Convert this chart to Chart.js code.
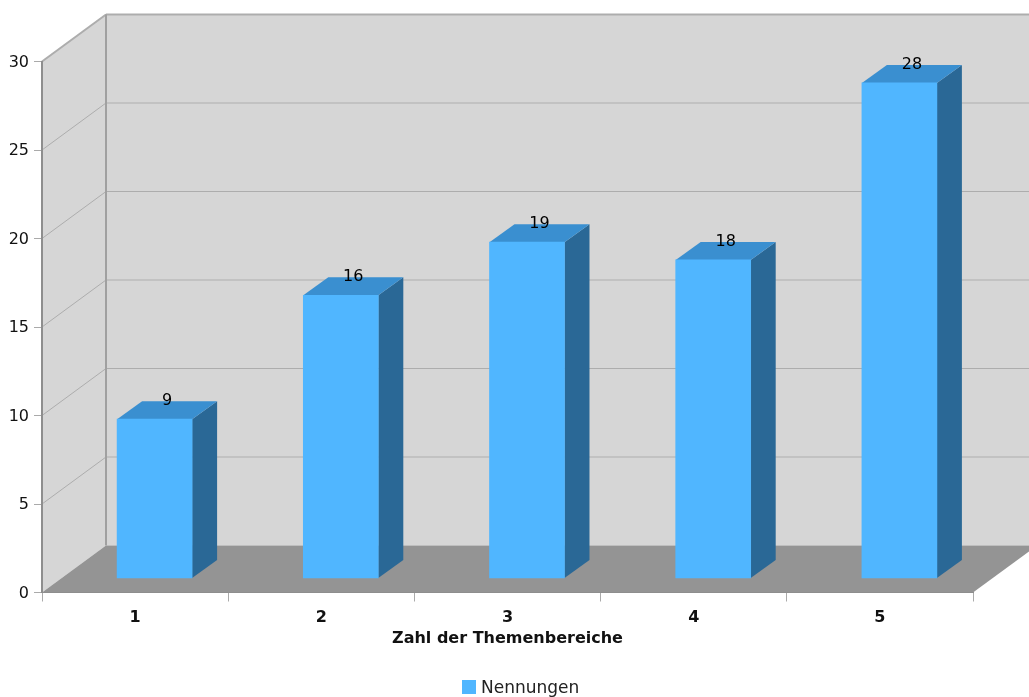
<!DOCTYPE html>
<html>
<head>
<meta charset="utf-8">
<title>Nennungen</title>
<script src="https://cdn.jsdelivr.net/npm/chart.js@4/dist/chart.umd.min.js"></script>
<style>
  html, body { margin: 0; padding: 0; background: #fff; }
  canvas { display: block; }
</style>
</head>
<body>
<canvas id="chart" width="1029" height="697"></canvas>
<script>
const categories = ['1', '2', '3', '4', '5'];
const nennungen = [9, 16, 19, 18, 28];
const yTicks = [0, 5, 10, 15, 20, 25, 30];

const FONT = '"DejaVu Sans", sans-serif';

// depth of the box the chart sits in, and of the bars inside it
const ROOM = { dx: 64, dy: -47 };
const BAR_OFFSET = { dx: 19.5, dy: -14 };
const BAR_DEPTH = { dx: 25, dy: -18 };

const COLORS = {
  wall: '#d6d6d6',
  floor: '#949494',
  edge: '#a0a0a0',
  grid: '#adadad',
  front: '#50b6ff',
  top: '#3a8fd0',
  side: '#2a6896'
};

function fillPoly(ctx, pts, color) {
  ctx.fillStyle = color;
  ctx.beginPath();
  pts.forEach((p, i) => i ? ctx.lineTo(p[0], p[1]) : ctx.moveTo(p[0], p[1]));
  ctx.closePath();
  ctx.fill();
}

function line(ctx, x1, y1, x2, y2, color, width) {
  ctx.strokeStyle = color;
  ctx.lineWidth = width;
  ctx.beginPath();
  ctx.moveTo(x1, y1);
  ctx.lineTo(x2, y2);
  ctx.stroke();
}

// Walls and floor behind the bars
const roomPlugin = {
  id: 'room',
  beforeDraw(chart) {
    const { ctx, chartArea: a, scales } = chart;
    const bx = a.left + ROOM.dx, dy = ROOM.dy;
    const farRight = a.right + ROOM.dx;

    ctx.save();
    fillPoly(ctx, [[a.left, a.top], [bx, a.top + dy], [farRight, a.top + dy], [farRight, a.bottom + dy], [bx, a.bottom + dy], [a.left, a.bottom]], COLORS.wall);
    fillPoly(ctx, [[a.left, a.bottom], [bx, a.bottom + dy], [farRight, a.bottom + dy], [a.right, a.bottom]], COLORS.floor);

    yTicks.forEach(v => {
      if (v === 0) return;
      const y = scales.y.getPixelForValue(v);
      const w = v === yTicks[yTicks.length - 1] ? 2 : 1;
      line(ctx, a.left, y, bx, y + dy, COLORS.grid, w);
      line(ctx, bx, y + dy, farRight, y + dy, COLORS.grid, w === 2 ? 2 : 1.2);
    });
    line(ctx, bx, a.top + dy, bx, a.bottom + dy, COLORS.edge, 2);
    ctx.restore();
  }
};

// Side and top faces are added around each bar, the bar itself is shifted into the room
const barBoxPlugin = {
  id: 'barBox',
  beforeDatasetDraw(chart, args) {
    const { ctx } = chart;
    const { dx, dy } = BAR_DEPTH;
    ctx.save();
    ctx.translate(BAR_OFFSET.dx, BAR_OFFSET.dy);
    args.meta.data.forEach(bar => {
      const { x, y, base, width } = bar.getProps(['x', 'y', 'base', 'width'], true);
      const l = x - width / 2, r = x + width / 2;
      fillPoly(ctx, [[r, y], [r + dx, y + dy], [r + dx, base + dy], [r, base]], COLORS.side);
      fillPoly(ctx, [[l, y], [l + dx, y + dy], [r + dx, y + dy], [r, y]], COLORS.top);
    });
  },
  afterDatasetDraw(chart) {
    chart.ctx.restore();
  },
  afterDatasetsDraw(chart) {
    const { ctx } = chart;
    const meta = chart.getDatasetMeta(0);
    ctx.save();
    ctx.font = '16px ' + FONT;
    ctx.fillStyle = '#000';
    ctx.textAlign = 'center';
    ctx.textBaseline = 'middle';
    meta.data.forEach((bar, i) => {
      const x = bar.x + BAR_OFFSET.dx + BAR_DEPTH.dx / 2;
      const y = bar.y + BAR_OFFSET.dy + BAR_DEPTH.dy;
      ctx.fillText(String(nennungen[i]), x, y);
    });
    ctx.restore();
  }
};

// Legend sits a little right of centre with a tight gap, so it is drawn here
const legendPlugin = {
  id: 'nennungenLegend',
  afterDraw(chart) {
    const { ctx } = chart;
    const ds = chart.data.datasets[0];
    ctx.save();
    ctx.fillStyle = ds.backgroundColor;
    ctx.fillRect(462, 680, 14, 14);
    ctx.font = '17px ' + FONT;
    ctx.fillStyle = '#222';
    ctx.textBaseline = 'middle';
    ctx.fillText(ds.label, 481, 689);
    ctx.restore();
  }
};

new Chart(document.getElementById('chart'), {
  type: 'bar',
  data: {
    labels: categories,
    datasets: [{
      label: 'Nennungen',
      data: nennungen,
      backgroundColor: COLORS.front,
      barThickness: 75,
      clip: false
    }]
  },
  plugins: [roomPlugin, barBoxPlugin, legendPlugin],
  options: {
    responsive: false,
    animation: false,
    layout: { padding: { top: 61.5, right: 56, left: 0, bottom: 48.5 } },
    plugins: {
      tooltip: { enabled: false },
      legend: { display: false }
    },
    scales: {
      x: {
        afterFit(scale) {
          scale.height = 56;
        },
        grid: { drawOnChartArea: false, offset: true, tickLength: 9, color: '#aaa' },
        border: { color: '#8e8e8e' },
        ticks: { color: '#111', padding: 7, maxRotation: 0, font: { family: FONT, size: 16, weight: 'bold' } },
        title: {
          display: true,
          text: 'Zahl der Themenbereiche',
          color: '#111',
          padding: { top: 0, bottom: 0 },
          font: { family: FONT, size: 16, weight: 'bold' }
        }
      },
      y: {
        min: 0,
        max: 30,
        afterBuildTicks(scale) {
          scale.ticks = yTicks.map(value => ({ value }));
        },
        afterFit(scale) {
          scale.width = 42;
        },
        grid: { drawOnChartArea: false, tickLength: 8, color: '#aaa' },
        border: { color: '#8e8e8e', width: 2 },
        ticks: { color: '#111', padding: 5, labelOffset: 1, font: { family: FONT, size: 16 } }
      }
    }
  }
});
</script>
</body>
</html>
